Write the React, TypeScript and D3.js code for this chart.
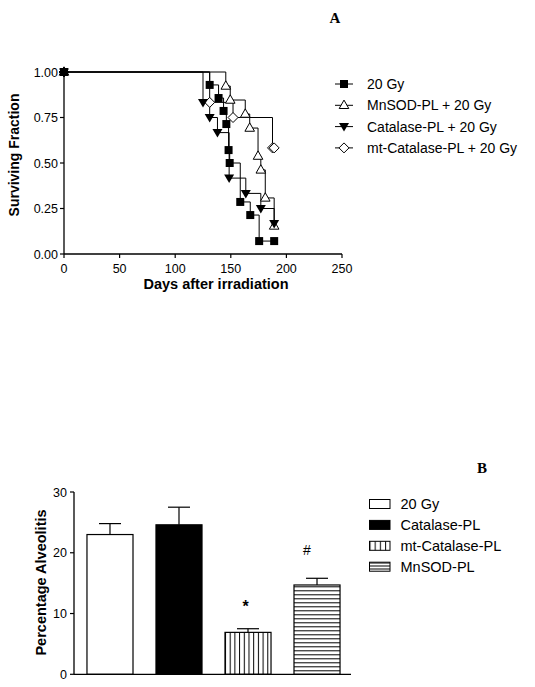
import React from "react";
import * as d3 from "d3";

// ---------- Panel A: survival data ----------
const survivalGroups = ["20 Gy", "MnSOD-PL + 20 Gy", "Catalase-PL + 20 Gy", "mt-Catalase-PL + 20 Gy"];
const gy20Days = [0, 131, 139, 143.5, 146, 148, 149, 158.5, 167.5, 175.5, 189];
const gy20Surv = [1, 0.929, 0.857, 0.786, 0.714, 0.571, 0.5, 0.286, 0.214, 0.071, 0.071];
const mnsodDays = [0, 145.5, 149.5, 163, 167, 174.5, 177, 181, 189];
const mnsodSurv = [1, 0.923, 0.846, 0.769, 0.692, 0.538, 0.462, 0.308, 0.154];
const catDays = [0, 125, 131, 138, 148.5, 163.5, 177, 189];
const catSurv = [1, 0.833, 0.75, 0.667, 0.417, 0.333, 0.25, 0.167];
const mtCatDays = [0, 131, 152, 187.5, 189];
const mtCatSurv = [1, 0.833, 0.75, 0.583, 0.583];
const survXTicks = [0, 50, 100, 150, 200, 250];
const survYTicks = [0, 0.25, 0.5, 0.75, 1];

// ---------- Panel B: alveolitis data ----------
const alvGroups = ["20 Gy", "Catalase-PL", "mt-Catalase-PL", "MnSOD-PL"];
const alvMeans = [23.0, 24.6, 6.9, 14.7];
const alvErrors = [1.8, 2.9, 0.6, 1.1];
const alvMarks = ["", "", "*", "#"];
const alvMarkLevels = [0, 0, 10.3, 19.6];
const alvYTicks = [0, 10, 20, 30];

const SANS = "'Liberation Sans', Arial, Helvetica, sans-serif";
const SERIF = "'Liberation Serif', 'Times New Roman', serif";

type Shape = "square" | "triUp" | "triDown" | "diamond";
const shapes: Shape[] = ["square", "triUp", "triDown", "diamond"];

function Marker({ shape, x, y }: { shape: Shape; x: number; y: number }) {
  if (shape === "square") {
    return <rect x={x - 4} y={y - 4} width={8} height={8} fill="#000" />;
  }
  if (shape === "triUp") {
    const p = `${x},${y - 5.2} ${x + 4.8},${y + 3.2} ${x - 4.8},${y + 3.2}`;
    return <polygon points={p} fill="#fff" stroke="#000" strokeWidth={1} />;
  }
  if (shape === "triDown") {
    const p = `${x - 5},${y - 3.5} ${x + 5},${y - 3.5} ${x},${y + 5}`;
    return <polygon points={p} fill="#000" />;
  }
  const p = `${x},${y - 5} ${x + 5},${y} ${x},${y + 5} ${x - 5},${y}`;
  return <polygon points={p} fill="#fff" stroke="#000" strokeWidth={1} />;
}

export default function App() {
  // Panel A scales
  const xA = d3.scaleLinear().domain([0, 250]).range([64, 342]);
  const yA = d3.scaleLinear().domain([0, 1]).range([254, 72]);
  const series = [
    { days: gy20Days, surv: gy20Surv },
    { days: mnsodDays, surv: mnsodSurv },
    { days: catDays, surv: catSurv },
    { days: mtCatDays, surv: mtCatSurv },
  ];
  const stepLine = d3
    .line<[number, number]>()
    .x((d) => xA(d[0]))
    .y((d) => yA(d[1]))
    .curve(d3.curveStepAfter);

  // Panel B scales
  const xB = d3.scaleBand<string>().domain(alvGroups).range([74, 353]).paddingInner(0.333).paddingOuter(0.188);
  const yB = d3.scaleLinear().domain([0, 30]).range([674.3, 492]);
  const bw = xB.bandwidth();
  const fills = ["#fff", "#000", "url(#vlines)", "url(#hlines)"];

  const drawOrder = [3, 1, 2, 0];

  return (
    <svg
      width={535}
      height={687}
      style={{ position: "absolute", left: 0, top: 0, background: "#fff" }}
      fontFamily={SANS}
    >
      <defs>
        <pattern id="vlines" patternUnits="userSpaceOnUse" width={4.7} height={10} x={xB(alvGroups[2])} y={0}>
          <rect width={4.7} height={10} fill="#fff" />
          <line x1={0.5} y1={0} x2={0.5} y2={10} stroke="#000" strokeWidth={1} />
        </pattern>
        <pattern id="hlines" patternUnits="userSpaceOnUse" width={10} height={4} x={0} y={yB(0)}>
          <rect width={10} height={4} fill="#fff" />
          <line x1={0} y1={0.5} x2={10} y2={0.5} stroke="#000" strokeWidth={1} />
        </pattern>
        <pattern id="vlinesLeg" patternUnits="userSpaceOnUse" width={5.15} height={10} x={369.5} y={0}>
          <rect width={5.15} height={10} fill="#fff" />
          <line x1={0.5} y1={0} x2={0.5} y2={10} stroke="#000" strokeWidth={1} />
        </pattern>
        <pattern id="hlinesLeg" patternUnits="userSpaceOnUse" width={10} height={3} x={0} y={562.5}>
          <rect width={10} height={3} fill="#fff" />
          <line x1={0} y1={0.5} x2={10} y2={0.5} stroke="#000" strokeWidth={1} />
        </pattern>
      </defs>

      {/* Panel labels */}
      <text x={335} y={23} fontFamily={SERIF} fontWeight="bold" fontSize={15} textAnchor="middle">A</text>
      <text x={482} y={473} fontFamily={SERIF} fontWeight="bold" fontSize={15} textAnchor="middle">B</text>

      {/* ---------- Panel A ---------- */}
      <g>
        {/* axes */}
        <line x1={xA(0)} y1={yA(0)} x2={xA(250)} y2={yA(0)} stroke="#000" strokeWidth={1.3} />
        <line x1={xA(0)} y1={yA(0)} x2={xA(0)} y2={yA(1)} stroke="#000" strokeWidth={1.3} />
        {survXTicks.map((t) => (
          <g key={"xa" + t}>
            <line x1={xA(t)} x2={xA(t)} y1={yA(0)} y2={yA(0) + 4} stroke="#000" strokeWidth={1.2} />
            <text x={xA(t)} y={273} fontSize={12.5} textAnchor="middle">{t}</text>
          </g>
        ))}
        {survYTicks.map((t) => (
          <g key={"ya" + t}>
            <line x1={xA(0) - 4} x2={xA(0)} y1={yA(t)} y2={yA(t)} stroke="#000" strokeWidth={1.2} />
            <text x={58} y={yA(t) + 4.5} fontSize={12.5} textAnchor="end">{d3.format(".2f")(t)}</text>
          </g>
        ))}
        <text x={216} y={289} fontSize={14.5} fontWeight="bold" textAnchor="middle">Days after irradiation</text>
        <text transform={`translate(19,155) rotate(-90)`} fontSize={14} fontWeight="bold" textAnchor="middle">Surviving Fraction</text>

        {/* step lines */}
        {series.map((s, i) => (
          <path
            key={"step" + i}
            d={stepLine(s.days.map((d, j) => [d, s.surv[j]] as [number, number])) || ""}
            fill="none"
            stroke="#000"
            strokeWidth={1}
          />
        ))}
        {/* markers */}
        {drawOrder.map((i) => (
          <g key={"mk" + i}>
            {series[i].days.map((d, j) => (
              <Marker key={j} shape={shapes[i]} x={xA(d)} y={yA(series[i].surv[j])} />
            ))}
          </g>
        ))}

        {/* legend */}
        {survivalGroups.map((g, i) => {
          const ly = 84 + i * 21.3;
          return (
            <g key={"lega" + i}>
              <line x1={335} x2={353} y1={ly} y2={ly} stroke="#000" strokeWidth={1} />
              <Marker shape={shapes[i]} x={344} y={ly} />
              <text x={367} y={ly + 5} fontSize={14}>{g}</text>
            </g>
          );
        })}
      </g>

      {/* ---------- Panel B ---------- */}
      <g>
        {alvGroups.map((g, i) => {
          const x0 = xB(g) as number;
          const cx = x0 + bw / 2;
          const top = yB(alvMeans[i]);
          const et = yB(alvMeans[i] + alvErrors[i]);
          return (
            <g key={"bar" + i}>
              <line x1={cx} x2={cx} y1={top} y2={et} stroke="#000" strokeWidth={1.2} />
              <line x1={cx - 11} x2={cx + 11} y1={et} y2={et} stroke="#000" strokeWidth={1.2} />
              <rect x={x0} y={top} width={bw} height={yB(0) - top} fill={fills[i]} stroke="#000" strokeWidth={1.2} />
              {alvMarks[i] && (
                <text
                  x={cx - (i === 3 ? 10 : 2.5)}
                  y={yB(alvMarkLevels[i])}
                  fontSize={i === 2 ? 16 : 14}
                  fontWeight={i === 2 ? "bold" : "normal"}
                  textAnchor="middle"
                >
                  {alvMarks[i]}
                </text>
              )}
            </g>
          );
        })}
        {/* axes */}
        <line x1={74} x2={351} y1={yB(0)} y2={yB(0)} stroke="#000" strokeWidth={1.3} />
        <line x1={74} x2={74} y1={yB(0)} y2={yB(30)} stroke="#000" strokeWidth={1.3} />
        {alvYTicks.map((t) => (
          <g key={"yb" + t}>
            <line x1={70} x2={74} y1={yB(t)} y2={yB(t)} stroke="#000" strokeWidth={1.2} />
            <text x={67} y={yB(t) + 4.5} fontSize={12.5} textAnchor="end">{t}</text>
          </g>
        ))}
        <text transform={`translate(45.5,582.5) rotate(-90)`} fontSize={14.5} fontWeight="bold" textAnchor="middle">Percentage Alveolitis</text>

        {/* legend */}
        {alvGroups.map((g, i) => {
          const ly = 504 + i * 20.9;
          return (
            <g key={"legb" + i}>
              <rect
                x={369.5}
                y={ly - 4.5}
                width={20.5}
                height={9}
                fill={i === 2 ? "url(#vlinesLeg)" : i === 3 ? "url(#hlinesLeg)" : fills[i]}
                stroke="#000"
                strokeWidth={1}
              />
              <text x={400.5} y={ly + 5} fontSize={14.5}>{g}</text>
            </g>
          );
        })}
      </g>
    </svg>
  );
}
